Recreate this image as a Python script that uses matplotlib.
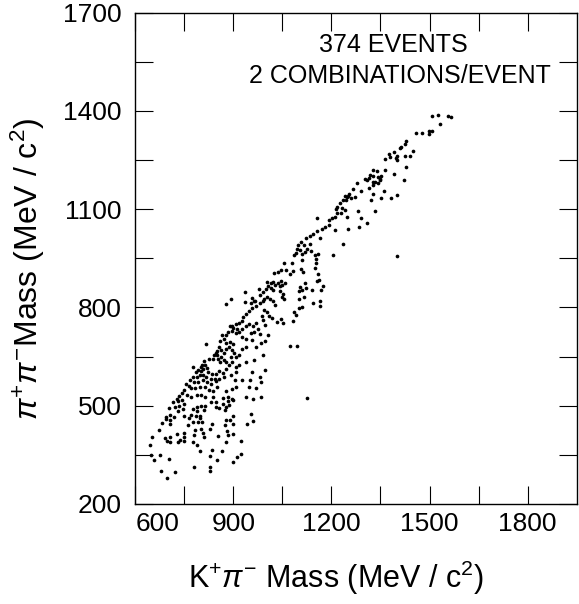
import matplotlib
matplotlib.use('Agg')
import matplotlib.pyplot as plt
import numpy as np

# ── data: (K+pi- mass, pi+pi- mass) in MeV/c^2 ────────────────────────────────

band_low = [
    (716, 510), (730, 515), (742, 516), (750, 506), (702, 494), (720, 496), (732, 500),
    (746, 489), (775, 491), (788, 496), (800, 500), (812, 498), (809, 487), (830, 510),
    (847, 512), (845, 496), (855, 494), (868, 506), (874, 487), (884, 514), (897, 516),
    (886, 502), (876, 496),
    (694, 467), (707, 471), (718, 467), (729, 483), (694, 459), (707, 457), (750, 469),
    (771, 471), (786, 469), (796, 469), (787, 483), (763, 461), (775, 451), (790, 451),
    (804, 451), (796, 461), (761, 440), (833, 443), (899, 469), (876, 457), (888, 457),
    (874, 440), (897, 443), (954, 475), (960, 453), (942, 443), (680, 447), (707, 445),
    (672, 426), (652, 404), (691, 401), (697, 392), (705, 406), (707, 388), (728, 414),
    (748, 418), (747, 406), (736, 396), (730, 388), (750, 392), (779, 412), (783, 426),
    (800, 428), (808, 416), (810, 406), (777, 388), (789, 381), (827, 428), (853, 408),
    (881, 424), (897, 414), (882, 412), (878, 388), (923, 392), (645, 381),
    (796, 361), (833, 365), (866, 363), (647, 351), (676, 351), (656, 333), (703, 337),
    (827, 345), (849, 335), (923, 353), (911, 343), (897, 327),
    (779, 312), (828, 312), (828, 300), (678, 300), (721, 298), (695, 280),
]

band_mid = [
    (878, 811), (935, 817), (953, 815), (963, 821), (970, 805), (981, 813), (989, 819),
    (958, 799), (948, 788), (937, 780), (929, 770), (994, 792), (987, 774), (925, 760),
    (917, 752), (907, 748), (896, 744), (888, 742), (900, 737), (911, 733), (894, 729),
    (882, 725), (876, 717), (865, 715), (870, 703), (859, 699), (907, 721), (917, 725),
    (927, 733), (937, 742), (948, 748), (960, 742), (968, 752), (976, 735), (989, 762),
    (997, 746), (954, 721), (964, 725), (981, 719), (927, 709), (937, 703), (958, 701),
    (876, 691), (888, 695), (898, 689), (816, 689), (855, 680), (863, 670), (851, 666),
    (845, 660), (839, 656), (849, 654), (861, 650), (870, 660), (878, 672), (886, 678),
    (896, 670), (902, 660), (907, 650), (917, 656), (927, 674), (937, 680), (968, 680),
    (983, 691), (997, 699), (892, 650), (870, 640), (878, 634), (859, 634), (853, 644),
    (837, 642), (824, 644), (810, 636), (804, 625), (802, 619), (814, 623), (818, 615),
    (808, 611), (800, 607), (792, 609), (785, 603), (777, 619), (822, 603), (833, 597),
    (845, 597), (855, 605), (868, 601), (876, 613), (886, 623), (896, 632), (907, 619),
    (917, 625), (939, 632), (964, 640), (991, 654), (995, 609), (958, 603), (907, 603),
    (892, 593), (870, 589), (857, 583), (843, 583), (831, 583), (816, 589), (808, 595),
    (798, 593), (787, 587), (775, 587), (767, 579), (779, 573), (792, 573), (806, 579),
    (818, 573), (831, 566), (845, 575), (904, 579), (925, 577), (952, 577), (981, 587),
    (985, 573), (763, 560), (755, 566), (771, 554), (783, 554), (796, 558), (812, 556),
    (826, 548), (837, 544), (851, 556), (878, 546), (907, 556), (896, 550), (948, 556),
    (968, 554), (750, 548), (742, 538), (759, 534), (732, 530), (726, 522), (769, 528),
    (787, 534), (800, 532), (814, 526), (837, 528), (868, 524), (884, 526), (896, 520),
    (937, 528), (960, 522), (985, 526), (1125, 525),
]

band_upper = [
    (1156, 1033), (1144, 1023), (1133, 1019), (1121, 1013), (1166, 1013), (1107, 1000),
    (1096, 990), (1115, 992), (1133, 994), (1125, 978), (1137, 972), (1119, 968),
    (1109, 964), (1092, 966), (1084, 960), (1103, 974), (1094, 980), (1148, 960),
    (1160, 964), (1152, 947), (1152, 937), (1109, 945), (1055, 937), (1078, 935),
    (1045, 913), (1035, 909), (1025, 905), (1061, 915), (1072, 903), (1082, 911),
    (1107, 917), (1113, 909), (1150, 919), (1158, 903), (1162, 884), (1156, 880),
    (1014, 874), (1020, 878), (1004, 878), (1027, 870), (1035, 874), (1041, 866),
    (1049, 870), (1045, 882), (1059, 876), (1119, 874), (1105, 862), (1100, 850),
    (1111, 852), (1123, 858), (1140, 854), (1168, 852), (1174, 866), (936, 848),
    (979, 856), (990, 848), (1000, 856), (1006, 866), (1014, 858), (1022, 852),
    (1043, 850), (1051, 842), (1047, 831), (1055, 827), (1100, 827), (1115, 833),
    (957, 829), (965, 821), (981, 837), (992, 827), (1004, 833), (1012, 825),
    (1022, 821), (1027, 809), (1142, 813), (1164, 819), (1166, 805), (1111, 801),
    (1100, 797), (1084, 785), (1002, 787), (1010, 774), (1018, 768), (1045, 764),
    (1051, 752), (1033, 756), (1082, 758), (1092, 778), (891, 825), (1006, 715),
    (1074, 681), (1094, 683), (1157, 1074),
]

band_top = [
    (1507, 1385), (1527, 1387), (1556, 1385), (1566, 1381), (1532, 1359), (1460, 1334),
    (1476, 1334), (1497, 1340), (1507, 1338), (1499, 1330), (1429, 1308), (1425, 1298),
    (1414, 1291), (1410, 1287), (1451, 1277), (1439, 1263), (1425, 1261), (1400, 1263),
    (1398, 1255), (1402, 1249), (1390, 1275), (1375, 1269), (1378, 1259), (1363, 1253),
    (1429, 1228), (1392, 1208), (1421, 1188), (1363, 1220), (1338, 1216), (1326, 1220),
    (1353, 1202), (1349, 1192), (1341, 1198), (1328, 1200), (1318, 1204), (1316, 1194),
    (1310, 1188), (1302, 1192), (1326, 1184), (1334, 1182), (1343, 1180), (1328, 1175),
    (1347, 1188), (1316, 1165), (1361, 1157), (1326, 1145), (1351, 1133), (1320, 1129),
    (1382, 1135), (1400, 1143), (1332, 1094), (1277, 1180), (1289, 1155), (1267, 1163),
    (1254, 1147), (1250, 1141), (1246, 1137), (1240, 1139), (1236, 1127), (1244, 1127),
    (1260, 1133), (1273, 1137), (1226, 1118), (1217, 1106), (1213, 1102), (1232, 1104),
    (1240, 1098), (1217, 1088), (1230, 1088), (1211, 1076), (1203, 1074), (1193, 1066),
    (1191, 1051), (1180, 1045), (1172, 1041), (1211, 1035), (1248, 1076), (1281, 1094),
    (1291, 1074), (1285, 1047), (1252, 1039), (1310, 1059), (1236, 994), (1205, 960),
    (1400, 956),
]

x_ticks = [600, 900, 1200, 1500, 1800]
y_ticks = [200, 500, 800, 1100, 1400, 1700]
minor_step = 150
x_lim = (600, 1950)
y_lim = (200, 1700)

note_lines = ['374 EVENTS', '2 COMBINATIONS/EVENT']

# ── plot ─────────────────────────────────────────────────────────────────────

font = ['Liberation Sans', 'DejaVu Sans']
plt.rcParams['font.family'] = font
plt.rcParams['mathtext.fontset'] = 'custom'
plt.rcParams['mathtext.rm'] = 'Liberation Sans'
plt.rcParams['mathtext.it'] = 'Liberation Sans:italic'

pts = np.array(band_low + band_mid + band_upper + band_top, dtype=float)

fig = plt.figure(figsize=(5.79, 6.04), dpi=100)
ax = fig.add_axes([0.234, 0.1656, 0.7617, 0.8134])

ax.scatter(pts[:, 0], pts[:, 1], s=7, color='black', marker='o', linewidths=0)

ax.set_xlim(*x_lim)
ax.set_ylim(*y_lim)
ax.set_xticks(x_ticks)
ax.set_yticks(y_ticks)
ax.set_xticks(np.arange(x_lim[0] + minor_step, x_lim[1], minor_step * 2), minor=True)
ax.set_yticks(np.arange(y_lim[0] + minor_step, y_lim[1], minor_step * 2), minor=True)
ax.set_xticklabels([str(v) for v in x_ticks])
ax.set_yticklabels([str(v) for v in y_ticks])
ax.tick_params(which='both', direction='in', length=13, width=0.8,
               top=True, right=True, labelsize=19)
ax.tick_params(axis='y', pad=10)
ax.tick_params(axis='x', pad=6)
ax.xaxis.get_ticklabels()[0].set_horizontalalignment('left')
for s in ax.spines.values():
    s.set_linewidth(1.0)

ax.text(0.584, 0.934, note_lines[0], transform=ax.transAxes,
        ha='center', va='center', fontsize=18)
ax.text(0.60, 0.871, note_lines[1], transform=ax.transAxes,
        ha='center', va='center', fontsize=18)

fig.text(0.58, 0.043, r'K$^{+}\pi^{-}$ Mass (MeV / c$^{2}$)',
         ha='center', va='center', fontsize=22)
fig.text(0.048, 0.555, r'$\pi^{+}\pi^{-}$Mass (MeV / c$^{2}$)',
         ha='center', va='center', rotation=90, fontsize=23)

fig.savefig('out.png', dpi=100)
